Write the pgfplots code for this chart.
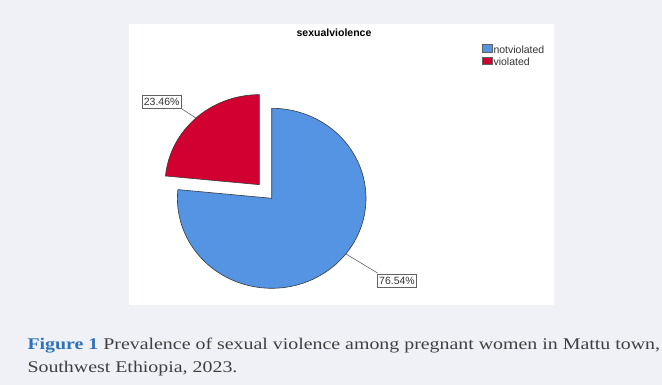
\documentclass[border=0pt]{standalone}
\usepackage{pgfplots}
\pgfplotsset{compat=1.18}
\usepackage{pgfplotstable}
\usepackage{fontspec}
\setmainfont{Liberation Serif}
\newfontfamily\arial{Liberation Sans}
\definecolor{bg}{HTML}{F0F1F7}
\definecolor{pieblue}{HTML}{5494E2}
\definecolor{piered}{HTML}{D20030}
\definecolor{edge}{HTML}{3A3A3A}
\definecolor{figblue}{HTML}{2E72B8}
\definecolor{captext}{HTML}{404040}

\pgfplotstableread{
label value
notviolated 76.54
violated 23.46
}\pietable

\begin{document}
\begin{tikzpicture}[x=1pt,y=1pt]
\fill[bg] (0,0) rectangle (662,385);
\fill[white] (129,80.3) rectangle (554,361);
\pgfplotstablegetelem{0}{value}\of\pietable \let\vA\pgfplotsretval
\pgfplotstablegetelem{1}{value}\of\pietable \let\vB\pgfplotsretval
\pgfmathsetmacro\redEnd{90+3.6*\vB}
\pgfmathsetmacro\redMid{90+1.8*\vB}
\pgfmathsetmacro\blueEnd{\redEnd+3.6*\vA}
\pgfmathsetmacro\ox{271.7+18.4*cos(\redMid)}
\pgfmathsetmacro\oy{186.7+18.4*sin(\redMid)}
\begin{axis}[at={(0,0)}, anchor=south west, x=1pt, y=1pt, scale only axis,
  xmin=0, xmax=662, ymin=0, ymax=385, hide axis, clip=false]
\filldraw[fill=pieblue, draw=edge, line width=0.6pt]
  (axis cs:271.7,186.7) -- ++(\redEnd:94.3pt and 90pt)
  arc[start angle=\redEnd, end angle=\blueEnd, x radius=94.3pt, y radius=90pt] -- cycle;
\filldraw[fill=piered, draw=edge, line width=0.6pt]
  (axis cs:\ox,\oy) -- ++(90:94.3pt and 90pt)
  arc[start angle=90, end angle=\redEnd, x radius=94.3pt, y radius=90pt] -- cycle;
\draw[edge!80, line width=0.6pt] (axis cs:\ox,\oy) ++(\redMid:94.3pt and 90pt) -- (axis cs:182,276);
\draw[edge!80, line width=0.6pt] (axis cs:346,131) -- (axis cs:377.5,112);
\end{axis}
\node[draw=edge!80, fill=white, line width=0.6pt, inner xsep=1.8pt, inner ysep=2.5pt,
  text height=7.6pt, text depth=0.4pt, font=\arial\fontsize{10.5}{12}\selectfont, text=black!80]
  at (161.7,283.5) {23.46\%};
\node[draw=edge!80, fill=white, line width=0.6pt, inner xsep=1.8pt, inner ysep=2.5pt,
  text height=7.6pt, text depth=0.4pt, font=\arial\fontsize{10.5}{12}\selectfont, text=black!80]
  at (397,104.5) {76.54\%};
\node[anchor=base, font=\arial\bfseries\fontsize{10.5}{12}\selectfont] at (334,348.3) {sexualviolence};
\filldraw[fill=pieblue, draw=edge!80, line width=0.5pt] (482,340.7) rectangle (492,332.7);
\filldraw[fill=piered, draw=edge!80, line width=0.5pt] (482,328) rectangle (492,320.7);
\node[anchor=base west, inner sep=0pt, font=\arial\fontsize{10.5}{12}\selectfont, text=black!80] at (493.3,331.3) {notviolated};
\node[anchor=base west, inner sep=0pt, font=\arial\fontsize{10.5}{12}\selectfont, text=black!80] at (493.3,319.3) {violated};
\node[anchor=base west, inner sep=0pt, font=\fontsize{16.3}{19}\selectfont, text=captext] at (27.3,35.7)
  {\scalebox{1.22}[1]{\textbf{\color{figblue}Figure 1} Prevalence of sexual violence among pregnant women in Mattu town,}};
\node[anchor=base west, inner sep=0pt, font=\fontsize{16.3}{19}\selectfont, text=captext] at (27.3,12.3)
  {\scalebox{1.22}[1]{Southwest Ethiopia, 2023.}};
\end{tikzpicture}
\end{document}
